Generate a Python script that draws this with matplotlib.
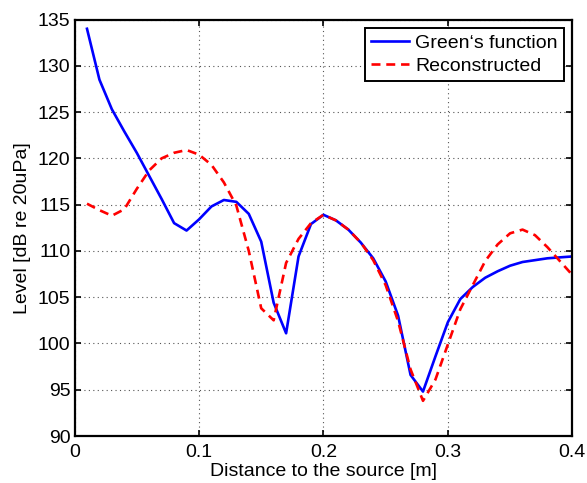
import numpy as np
import matplotlib
matplotlib.use("Agg")
import matplotlib.pyplot as plt

plt.rcParams['font.family'] = ['Liberation Sans', 'DejaVu Sans']

distance = [0.01, 0.02, 0.03, 0.04, 0.05, 0.06, 0.07, 0.08, 0.09, 0.10,
            0.11, 0.12, 0.13, 0.14, 0.15, 0.16, 0.17, 0.18, 0.19, 0.20,
            0.21, 0.22, 0.23, 0.24, 0.25, 0.26, 0.27, 0.28, 0.29, 0.30,
            0.31, 0.32, 0.33, 0.34, 0.35, 0.36, 0.37, 0.38, 0.39, 0.40]

greens = [134.0, 128.5, 125.3, 122.9, 120.6, 118.1, 115.6, 113.0, 112.2, 113.4,
          114.8, 115.5, 115.3, 114.0, 111.0, 104.4, 101.1, 109.4, 112.9, 113.9,
          113.3, 112.3, 110.9, 109.2, 106.7, 103.0, 96.6, 94.8, 98.6, 102.3,
          104.8, 106.1, 107.1, 107.8, 108.4, 108.8, 109.0, 109.2, 109.3, 109.4]

reconstructed = [115.1, 114.4, 113.8, 114.5, 116.7, 118.7, 120.0, 120.6, 120.9, 120.4,
                 119.3, 117.4, 114.9, 110.0, 103.8, 102.5, 108.7, 111.3, 113.0, 113.9,
                 113.3, 112.3, 110.9, 109.0, 106.3, 102.4, 97.2, 93.8, 96.1, 99.9,
                 103.7, 106.3, 108.9, 110.7, 111.9, 112.3, 111.7, 110.4, 108.9, 107.4]

xticks = [0, 0.1, 0.2, 0.3, 0.4]
xticklabels = ['0', '0.1', '0.2', '0.3', '0.4']
yticks = [90, 95, 100, 105, 110, 115, 120, 125, 130, 135]

fs = 14

fig = plt.figure(figsize=(5.87, 4.83), dpi=100)
ax = fig.add_axes([0.127, 0.0973, 0.848, 0.8623])

ax.plot(distance, greens, color='#0000ff', lw=1.9, label='Green\u2018s function')
ax.plot(distance, reconstructed, color='#ff0000', lw=1.9, ls=(0, (3.4, 2.2)), label='Reconstructed')

ax.set_xlim(0, 0.4)
ax.set_ylim(90, 135)
ax.set_xticks(xticks)
ax.set_xticklabels(xticklabels)
ax.set_yticks(yticks)
ax.tick_params(direction='in', length=4, width=1.2, labelsize=fs, top=True, right=True)
ax.tick_params(axis='x', pad=6)
ax.tick_params(axis='y', pad=3)
for s in ax.spines.values():
    s.set_linewidth(1.6)
ax.grid(True, ls=(0, (1, 3)), color='#555555', lw=0.8)

ax.set_xlabel('Distance to the source [m]', fontsize=fs, labelpad=1)
ax.set_ylabel('Level [dB re 20uPa]', fontsize=fs, labelpad=5)

leg = ax.legend(loc='upper right', fontsize=fs, fancybox=False, framealpha=1,
                edgecolor='black', handlelength=2.0, borderpad=0.3,
                labelspacing=0.3, handletextpad=0.3, borderaxespad=0.45)
leg.get_frame().set_linewidth(1.4)

fig.savefig('out.png', dpi=100)
